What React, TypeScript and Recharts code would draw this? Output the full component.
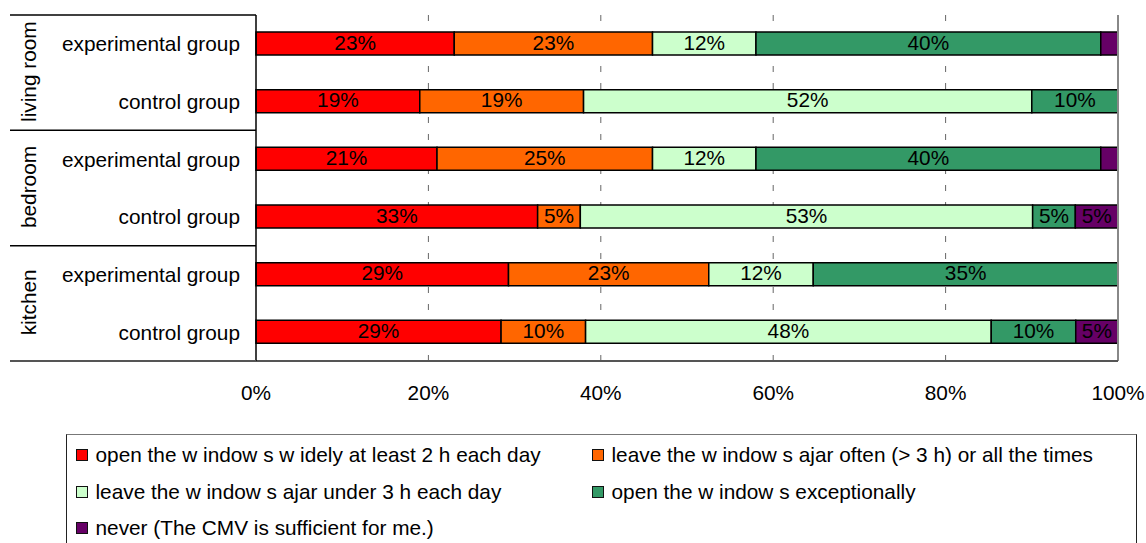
import React from "react";
import {
  BarChart,
  Bar,
  XAxis,
  YAxis,
  CartesianGrid,
  ReferenceLine,
  LabelList,
} from "recharts";

// rooms, two survey groups per room (top to bottom)
const ROOMS = ["living room", "bedroom", "kitchen"];
const GROUP_LABELS = [
  "experimental group",
  "control group",
  "experimental group",
  "control group",
  "experimental group",
  "control group",
];

// answers in % per row (each row is normalised to 100%)
const OPEN_WIDELY = [23, 19, 21, 33, 29, 29];
const AJAR_OFTEN = [23, 19, 25, 5, 23, 10];
const AJAR_SHORT = [12, 52, 12, 53, 12, 48];
const EXCEPTIONALLY = [40, 10, 40, 5, 35, 10];
const NEVER = [2, 0, 2, 5, 0, 5];

const X_TICKS = [0, 0.2, 0.4, 0.6, 0.8, 1];
const GRID_VALUES = [0.2, 0.4, 0.6, 0.8];

const SERIES = [
  { key: "openWidely", values: OPEN_WIDELY, color: "#FF0000", name: "open the w indow s w idely at least 2 h each day" },
  { key: "ajarOften", values: AJAR_OFTEN, color: "#FF6600", name: "leave the w indow s ajar often (> 3 h) or all the times" },
  { key: "ajarShort", values: AJAR_SHORT, color: "#CCFFCC", name: "leave the w indow s ajar under 3 h each day" },
  { key: "exceptionally", values: EXCEPTIONALLY, color: "#339966", name: "open the w indow s exceptionally" },
  { key: "never", values: NEVER, color: "#660066", name: "never (The CMV is sufficient for me.)" },
];

const data = GROUP_LABELS.map((label, i) => {
  const row: Record<string, string | number> = { id: `r${i}`, label };
  SERIES.forEach((s) => (row[s.key] = s.values[i]));
  return row;
});

const FONT = '"Liberation Sans", Arial, sans-serif';
const FS = 20.8;
const W = 1146;
const H = 543;
const MARGIN = { top: 15, right: 28, bottom: 142, left: 10 };
const Y_W = 246;
const X_H = 40;
const PLOT_H = H - MARGIN.top - MARGIN.bottom - X_H;
const BAND = PLOT_H / GROUP_LABELS.length;
const TABLE_X0 = MARGIN.left;
const TABLE_X1 = MARGIN.left + Y_W;
const MIN_LABEL = 3; // tiny segments stay unlabelled

function RowTick(props: any) {
  const { x, y, payload } = props;
  const i: number = props.index ?? payload?.index ?? 0;
  const last = i === GROUP_LABELS.length - 1;
  const first = i % 2 === 0;
  return (
    <g>
      <text
        x={x}
        y={y}
        textAnchor="end"
        dominantBaseline="central"
        fontFamily={FONT}
        fontSize={FS}
        fill="#000"
      >
        {payload.value}
      </text>
      {first && (
        <>
          <line x1={TABLE_X0} x2={TABLE_X1} y1={y - BAND / 2} y2={y - BAND / 2} stroke="#000" strokeWidth={1.5} />
          <text
            x={36}
            y={y + BAND / 2 - 1}
            transform={`rotate(-90, 36, ${y + BAND / 2 - 1})`}
            textAnchor="middle"
            fontFamily={FONT}
            fontSize={FS}
            fill="#000"
          >
            {ROOMS[i / 2]}
          </text>
        </>
      )}
      {last && (
        <line x1={TABLE_X0} x2={TABLE_X1} y1={y + BAND / 2} y2={y + BAND / 2} stroke="#555" strokeWidth={2} />
      )}
    </g>
  );
}

function PctTick(props: any) {
  const { x, y, payload } = props;
  return (
    <text
      x={x}
      y={y + 31.5}
      textAnchor="middle"
      dominantBaseline="central"
      fontFamily={FONT}
      fontSize={FS}
      fill="#000"
    >
      {`${Math.round(payload.value * 100)}%`}
    </text>
  );
}

// LabelList reads the raw row value through its dataKey
function PctLabel(props: any) {
  const { x, y, width, height, value } = props;
  const v = Number(value);
  if (!Number.isFinite(v) || v < MIN_LABEL) return null;
  return (
    <text
      x={x + width / 2}
      y={y + height / 2 - 1.5}
      textAnchor="middle"
      dominantBaseline="central"
      fontFamily={FONT}
      fontSize={FS}
      fill="#000"
    >
      {`${v}%`}
    </text>
  );
}

const LEGEND_COL_X = [74.5, 590.5];
const LEGEND_ROW_Y = 454;
const LEGEND_ROW_STEP = 36.5;

function WindowLegend() {
  return (
    <div
      style={{
        position: "absolute",
        left: 66,
        top: 434,
        width: 1071,
        height: 120,
        borderTop: "1.5px solid #777",
        borderLeft: "1px solid #222",
        borderRight: "1px solid #222",
        boxSizing: "border-box",
      }}
    >
      {SERIES.map((s, i) => {
        const cx = LEGEND_COL_X[i % 2] - 66;
        const cy = LEGEND_ROW_Y + Math.floor(i / 2) * LEGEND_ROW_STEP - 434;
        return (
          <div
            key={s.key}
            style={{
              position: "absolute",
              left: cx,
              top: cy - 14,
              height: 28,
              display: "flex",
              alignItems: "center",
              whiteSpace: "nowrap",
              fontFamily: FONT,
              fontSize: FS,
              color: "#000",
            }}
          >
            <span
              style={{
                display: "inline-block",
                width: 12,
                height: 12,
                boxSizing: "border-box",
                border: "1.5px solid #111",
                background: s.color,
                marginRight: 8,
              }}
            />
            <span>{s.name}</span>
          </div>
        );
      })}
    </div>
  );
}

export default function App() {
  return (
    <div style={{ position: "absolute", left: 0, top: 0, width: W, height: H, background: "#fff", overflow: "hidden" }}>
      <BarChart
        width={W}
        height={H}
        data={data}
        layout="vertical"
        stackOffset="expand"
        margin={MARGIN}
        barSize={23}
      >
        <CartesianGrid
          horizontal={false}
          verticalValues={GRID_VALUES}
          stroke="#666"
          strokeDasharray="6 11"
        />
        <XAxis
          type="number"
          domain={[0, 1]}
          ticks={X_TICKS}
          interval={0}
          height={X_H}
          tickLine={false}
          tickSize={0}
          tickMargin={0}
          axisLine={{ stroke: "#555", strokeWidth: 2 }}
          tick={PctTick}
        />
        <XAxis
          xAxisId="top"
          orientation="top"
          type="number"
          domain={[0, 1]}
          height={0}
          tick={false}
          tickLine={false}
          axisLine={{ stroke: "#999", strokeWidth: 1.5 }}
        />
        <YAxis
          type="category"
          dataKey="label"
          width={Y_W}
          interval={0}
          tickLine={false}
          tickSize={0}
          tickMargin={16}
          axisLine={{ stroke: "#000", strokeWidth: 1.5 }}
          tick={RowTick}
        />
        {SERIES.map((s) => (
          <Bar
            key={s.key}
            dataKey={s.key}
            stackId="rows"
            fill={s.color}
            stroke="#000"
            strokeWidth={1.5}
            isAnimationActive={false}
          >
            <LabelList dataKey={s.key} content={PctLabel} />
          </Bar>
        ))}
        <ReferenceLine x={1} stroke="#888" strokeWidth={2} />
      </BarChart>
      <WindowLegend />
    </div>
  );
}
